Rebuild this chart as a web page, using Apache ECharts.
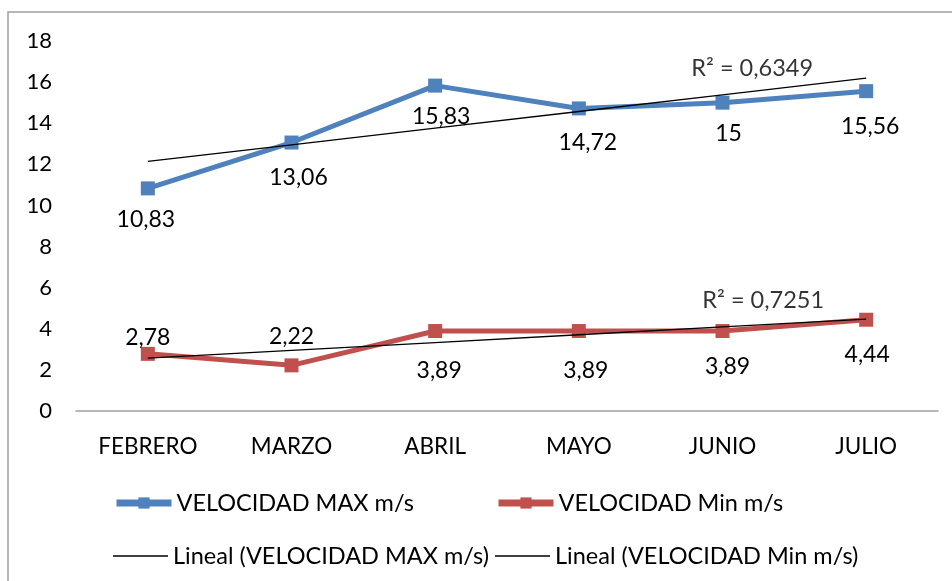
<!DOCTYPE html>
<html>
<head>
<meta charset="utf-8">
<script src="https://cdn.jsdelivr.net/npm/echarts@6/dist/echarts.min.js"></script>
<style>html,body{margin:0;padding:0;background:#fff}#c{width:952px;height:581px}</style>
</head>
<body>
<div id="c"></div>
<script>
var categories = ['FEBRERO', 'MARZO', 'ABRIL', 'MAYO', 'JUNIO', 'JULIO'];
var velMax = [10.83, 13.06, 15.83, 14.72, 15, 15.56];
var velMin = [2.78, 2.22, 3.89, 3.89, 3.89, 4.44];
var trendMax = [12.14, 12.95, 13.76, 14.57, 15.38, 16.19];
var trendMin = [2.57, 2.95, 3.33, 3.71, 4.09, 4.47];
var r2Max = 'R² = 0,6349';
var r2Min = 'R² = 0,7251';
var yTicks = [0, 2, 4, 6, 8, 10, 12, 14, 16, 18];

var names = ['VELOCIDAD MAX m/s', 'VELOCIDAD Min m/s', 'Lineal (VELOCIDAD MAX m/s)', 'Lineal (VELOCIDAD Min m/s)'];
var maxLabelOffset = [[-2, 31], [7, 35], [6, 31], [9, 34], [6, 31], [4, 35]];
var minLabelOffset = [[0, -16], [0, -29], [4, 40], [7, 40], [5, 36], [1, 35]];

var FONT = 'Lato';
function fmt(v) { return String(v).replace('.', ','); }
function labeled(vals, offs) {
  return vals.map(function (v, i) {
    return { value: v, label: { offset: offs[i] } };
  });
}
var lblStyle = { show: true, position: 'inside', color: '#000', fontFamily: FONT, fontSize: 23,
  formatter: function (p) { return fmt(p.value); } };

function leg(name, left, top, isTrend) {
  var l = { data: [name], left: left, top: top, padding: 0, itemWidth: 55, itemHeight: 14,
    textStyle: { fontFamily: FONT, fontSize: 23.5, color: '#000', lineHeight: 26 },
    lineStyle: { width: 7 } };
  if (isTrend) {
    l.data = [{ name: name, icon: 'rect' }];
    l.itemHeight = 1.5;
  }
  return l;
}

var chart = echarts.init(document.getElementById('c'), null, { renderer: 'canvas' });
chart.setOption({
  backgroundColor: '#fff',
  animation: false,
  graphic: [{ type: 'rect', shape: { x: 8, y: 12, width: 1000, height: 700 },
    style: { fill: 'none', stroke: '#a0a0a0', lineWidth: 1.5 }, silent: true }],
  grid: { left: 76, right: 14, top: 41, bottom: 170 },
  legend: [leg(names[0], 113, 490), leg(names[1], 495, 490), leg(names[2], 113, 543, true), leg(names[3], 495, 543, true)],
  xAxis: {
    type: 'category', data: categories, boundaryGap: true,
    axisLine: { lineStyle: { color: '#a0a0a0', width: 1.5 } },
    axisTick: { show: false },
    axisLabel: { color: '#000', fontFamily: FONT, fontSize: 22.5, margin: 24 }
  },
  yAxis: {
    type: 'value', min: yTicks[0], max: yTicks[yTicks.length - 1], interval: 2,
    axisLine: { show: false }, axisTick: { show: false }, splitLine: { show: false },
    axisLabel: { color: '#000', fontFamily: FONT, fontSize: 22, margin: 24 }
  },
  series: [
    { name: names[0], type: 'line', data: labeled(velMax, maxLabelOffset), symbol: 'rect', symbolSize: 14,
      lineStyle: { color: '#4F81BD', width: 5 }, itemStyle: { color: '#4F81BD' }, label: lblStyle, z: 3 },
    { name: names[1], type: 'line', data: labeled(velMin, minLabelOffset), symbol: 'rect', symbolSize: 14,
      lineStyle: { color: '#C0504D', width: 5 }, itemStyle: { color: '#C0504D' }, label: lblStyle, z: 3 },
    { name: names[2], type: 'line', data: trendMax, symbol: 'none',
      lineStyle: { color: '#000', width: 1.3 }, itemStyle: { color: '#000' }, z: 4 },
    { name: names[3], type: 'line', data: trendMin, symbol: 'none',
      lineStyle: { color: '#000', width: 1.3 }, itemStyle: { color: '#000' }, z: 4 },
    { type: 'scatter', symbolSize: 1, itemStyle: { color: 'rgba(0,0,0,0)' }, silent: true,
      data: [
        { value: [categories.length - 1, trendMax[trendMax.length - 1]], label: { formatter: r2Max, offset: [-114, -10] } },
        { value: [categories.length - 1, trendMin[trendMin.length - 1]], label: { formatter: r2Min, offset: [-103, -19] } }
      ],
      label: { show: true, position: 'inside', color: '#000', fontFamily: FONT, fontSize: 23.5 } }
  ]
});
</script>
</body>
</html>
